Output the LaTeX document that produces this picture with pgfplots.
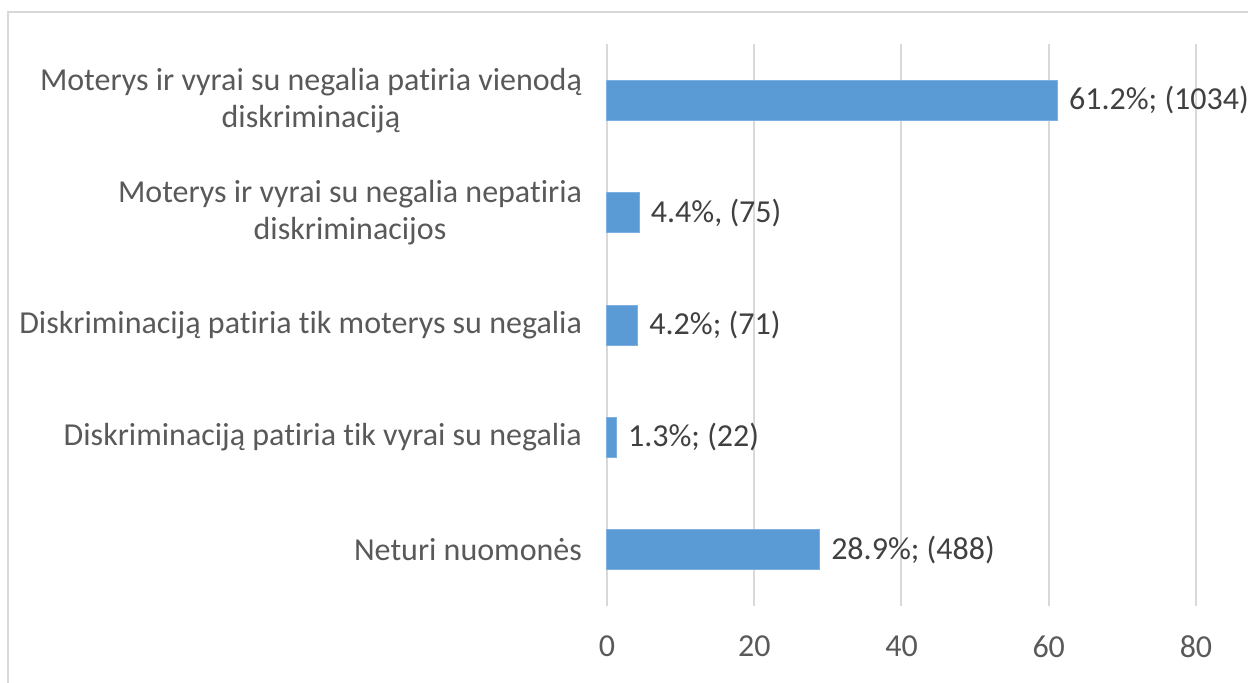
\documentclass[border=0pt]{standalone}
\usepackage{pgfplots}
\usepackage{pgfplotstable}
\pgfplotsset{compat=1.18}
\usepackage{fontspec}
\setmainfont{Carlito}[Ligatures={NoCommon}]
\definecolor{barblue}{HTML}{5B9BD5}
\definecolor{baredge}{HTML}{7DB0DF}
\definecolor{gridgray}{HTML}{D9D9D9}
\definecolor{txtgray}{HTML}{595959}
\definecolor{lbl}{HTML}{404040}
\protected\def\semi{;}
\protected\def\pct{\%}
\pgfplotstableread[col sep=comma]{
c,v,lab
1,61.2,{61.2\pct\semi{} (1034)}
2,4.4,{4.4\pct, (75)}
3,4.2,{4.2\pct\semi{} (71)}
4,1.3,{1.3\pct\semi{} (22)}
5,28.9,{28.9\pct\semi{} (488)}
}\datatable
\begin{document}
\begin{tikzpicture}
\useasboundingbox (0,0) rectangle (624pt,341pt);
\draw[gridgray, line width=1pt] (4pt,-20pt) -- (4pt,335pt) -- (660pt,335pt);
\begin{axis}[
  at={(303.5pt,38pt)}, anchor=south west,
  scale only axis,
  width=294.5pt, height=281pt,
  xbar, bar width=20pt,
  xmin=0, xmax=80,
  ymin=0.5, ymax=5.5,
  y dir=reverse,
  xtick={0,20,40,60,80},
  ytick={1,2,3,4,5},
  yticklabels={{Moterys ir vyrai su negalia patiria vienodą\\diskriminaciją},
               {Moterys ir vyrai su negalia nepatiria\\diskriminacijos},
               {Diskriminaciją patiria tik moterys su negalia},
               {Diskriminaciją patiria tik vyrai su negalia},
               {Neturi nuomonės}},
  axis line style={draw=none},
  major tick length=0pt,
  xmajorgrids,
  grid style={gridgray, line width=1pt},
  /pgf/number format/assume math mode=true,
  tick label style={font=\fontsize{16}{18.5}\selectfont, text=txtgray},
  xticklabel style={yshift=-11.5pt},
  yticklabel style={align=center, xshift=-9pt},
  nodes near coords,
  point meta=explicit symbolic,
  every node near coord/.append style={anchor=west, inner sep=0pt, xshift=5.5pt,
     font=\fontsize{16}{18.5}\selectfont, text=lbl},
  clip=false,
]
\addplot[fill=barblue, draw=baredge, line width=0.5pt] table[x=v, y=c, meta=lab] {\datatable};
\end{axis}
\end{tikzpicture}
\end{document}
